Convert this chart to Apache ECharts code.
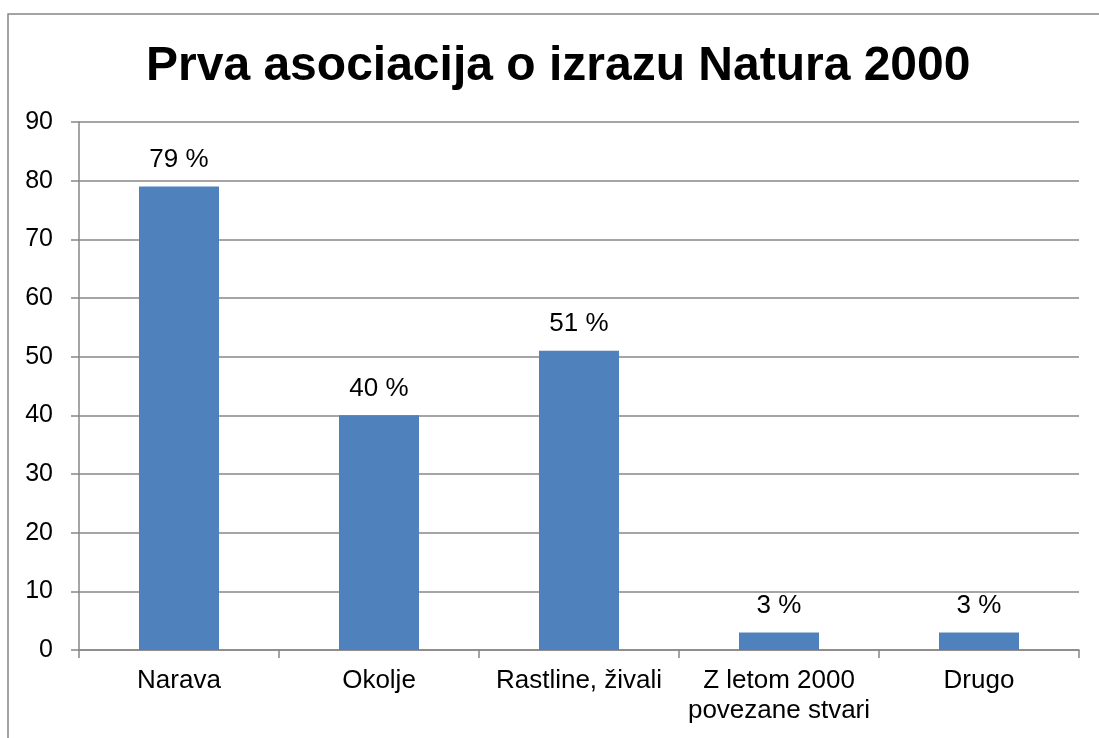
<!DOCTYPE html>
<html>
<head>
  <meta charset="UTF-8">
  <title>Prva asociacija o izrazu Natura 2000</title>
  <script src="https://cdn.jsdelivr.net/npm/echarts@6/dist/echarts.min.js"></script>
  <style>
    html, body { margin: 0; padding: 0; background: #fff; }
  </style>
</head>
<body>
  <div id="main" style="width: 1099px; height: 738px"></div>
  <script>
    // podatki
    var categories = ['Narava', 'Okolje', 'Rastline, živali', 'Z letom 2000\npovezane stvari', 'Drugo'];
    var values = [79, 40, 51, 3, 3];
    var yTicks = [0, 10, 20, 30, 40, 50, 60, 70, 80, 90];

    var font = "'Liberation Sans', Arial, sans-serif";
    var gray = '#878787';

    var chart = echarts.init(document.getElementById('main'));

    var option = {
      animation: false,
      title: {
        text: 'Prva asociacija o izrazu Natura 2000',
        left: 141,
        top: 38,
        textStyle: { fontFamily: font, fontSize: 48, fontWeight: 'bold', color: '#000' }
      },
      // okvir grafa
      graphic: [{
        type: 'rect',
        silent: true,
        shape: { x: 8, y: 14, width: 1200, height: 800 },
        style: { fill: 'none', stroke: gray, lineWidth: 1.5 }
      }],
      grid: { left: 79, right: 20, top: 122, bottom: 88 },
      xAxis: {
        type: 'category',
        data: categories,
        axisLine: { lineStyle: { color: gray, width: 1.5 } },
        axisTick: { show: true, length: 8, lineStyle: { color: gray, width: 1.5 } },
        axisLabel: { margin: 16, fontFamily: font, fontSize: 26, lineHeight: 30, color: '#000', interval: 0 }
      },
      yAxis: {
        type: 'value',
        min: yTicks[0],
        max: yTicks[yTicks.length - 1],
        interval: 10,
        axisLine: { show: true, lineStyle: { color: gray, width: 1.5 } },
        axisTick: { show: true, length: 8, lineStyle: { color: gray, width: 1.5 } },
        axisLabel: { margin: 26, fontFamily: font, fontSize: 25, color: '#000' },
        splitLine: { lineStyle: { color: gray, width: 1.5 } }
      },
      series: [{
        type: 'bar',
        data: values,
        barWidth: '40%',
        itemStyle: { color: '#4F81BD' },
        label: {
          show: true,
          position: 'top',
          distance: 14,
          fontFamily: font,
          fontSize: 26,
          color: '#000',
          formatter: '{c} %'
        }
      }]
    };
    chart.setOption(option);
  </script>
</body>
</html>
